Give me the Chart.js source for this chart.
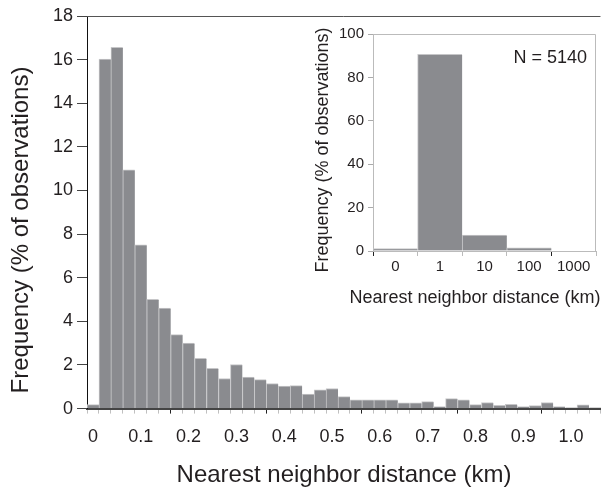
<!DOCTYPE html>
<html>
<head>
<meta charset="utf-8">
<script src="https://cdn.jsdelivr.net/npm/chart.js@4/dist/chart.umd.min.js"></script>
<style>
  body { margin: 0; background: #fff; }
  #wrap { position: relative; width: 608px; height: 490px; }
  #inset { position: absolute; left: 300px; top: 20px; }
</style>
</head>
<body>
<div id="wrap">
  <canvas id="mainChart" width="608" height="490"></canvas>
  <canvas id="inset" width="308" height="300"></canvas>
</div>
<script>
// main histogram: 0.025 km bins
const binLabels = [
  '0', '0.025', '0.05', '0.075', '0.1', '0.125', '0.15', '0.175', '0.2', '0.225',
  '0.25', '0.275', '0.3', '0.325', '0.35', '0.375', '0.4', '0.425', '0.45', '0.475',
  '0.5', '0.525', '0.55', '0.575', '0.6', '0.625', '0.65', '0.675', '0.7', '0.725',
  '0.75', '0.775', '0.8', '0.825', '0.85', '0.875', '0.9', '0.925', '0.95', '0.975',
  '1.0', '1.025', '1.05'
];
const freqPct = [
  0.18, 16.02, 16.56, 10.95, 7.51, 5.01, 4.61, 3.39, 3.00, 2.31,
  1.85, 1.38, 2.02, 1.44, 1.33, 1.15, 1.03, 1.05, 0.67, 0.86,
  0.92, 0.55, 0.40, 0.40, 0.40, 0.40, 0.26, 0.26, 0.32, 0.09,
  0.46, 0.40, 0.18, 0.28, 0.15, 0.20, 0.09, 0.14, 0.28, 0.09,
  0.04, 0.17, 0.04
];
const xTickText = ['0', '0.1', '0.2', '0.3', '0.4', '0.5', '0.6', '0.7', '0.8', '0.9', '1.0'];
const xTickEvery = 4;
const majorTickAt = [7, 15, 23, 31, 38];

// inset: log bins
const insetCats = ['0', '1', '10', '100', '1000'];
const insetPct = [1.1, 90.6, 7.3, 1.5, 0];
const sampleSize = 5140;

const TEXT = '#231f20';
const BAR = '#8a8b8f';
const BAR_EDGE = '#c6c6c8';
const FONT = '"Liberation Sans", Arial, sans-serif';

// draws top/right frame lines and free-placed labels
const frameAndText = {
  id: 'frameAndText',
  afterDraw(chart, args, opts) {
    const { ctx, chartArea: a } = chart;
    ctx.save();
    ctx.strokeStyle = opts.frameColor;
    ctx.lineWidth = 1;
    ctx.beginPath();
    ctx.moveTo(a.left, a.top + 0.5);
    ctx.lineTo(a.right - 0.5, a.top + 0.5);
    if (opts.rightEdge) ctx.lineTo(a.right - 0.5, a.bottom);
    ctx.stroke();
    (opts.texts || []).forEach(t => {
      ctx.save();
      ctx.translate(t.x(a), t.y(a));
      ctx.rotate(t.angle || 0);
      ctx.font = t.font;
      ctx.fillStyle = TEXT;
      ctx.textAlign = t.align || 'center';
      ctx.textBaseline = 'middle';
      ctx.fillText(t.text, 0, 0);
      ctx.restore();
    });
    ctx.restore();
  }
};

new Chart(document.getElementById('mainChart'), {
  type: 'bar',
  data: {
    labels: binLabels,
    datasets: [{
      data: freqPct,
      backgroundColor: BAR,
      borderColor: BAR_EDGE,
      borderWidth: { top: 1, left: 1, right: 0, bottom: 0 },
      borderSkipped: false,
      categoryPercentage: 1,
      barPercentage: 1
    }]
  },
  options: {
    responsive: false,
    animation: false,
    layout: { padding: { left: 49, top: 16, right: 0, bottom: 0 } },
    plugins: {
      legend: { display: false },
      tooltip: { enabled: false },
      frameAndText: {
        frameColor: '#555',
        texts: [{
          text: 'Frequency (% of observations)',
          font: `24px ${FONT}`,
          angle: -Math.PI / 2,
          x: () => 21,
          y: () => 230
        }]
      }
    },
    scales: {
      x: {
        grid: {
          drawOnChartArea: false,
          tickLength: 5,
          tickColor: ctx => majorTickAt.includes(ctx.index) ? '#222' : '#c0c0c0'
        },
        border: { color: '#444', width: 2 },
        ticks: {
          autoSkip: false,
          maxRotation: 0,
          padding: 13,
          color: TEXT,
          font: { family: FONT, size: 18 },
          callback: (v, i) => i % xTickEvery === 0 ? xTickText[i / xTickEvery] : ''
        },
        title: {
          display: true,
          text: 'Nearest neighbor distance (km)',
          color: TEXT,
          font: { family: FONT, size: 24 },
          padding: { top: 0, bottom: 0 }
        }
      },
      y: {
        min: 0,
        max: 18,
        grid: { drawOnChartArea: false, tickLength: 10, tickColor: '#444' },
        border: { color: '#111', width: 1 },
        ticks: {
          stepSize: 2,
          padding: 4,
          color: TEXT,
          font: { family: FONT, size: 18 }
        }
      }
    }
  },
  plugins: [frameAndText]
});

new Chart(document.getElementById('inset'), {
  type: 'bar',
  data: {
    labels: insetCats,
    datasets: [{
      data: insetPct,
      backgroundColor: BAR,
      borderColor: BAR_EDGE,
      borderWidth: { top: 1, left: 1, right: 0, bottom: 0 },
      borderSkipped: false,
      categoryPercentage: 1,
      barPercentage: 1
    }]
  },
  options: {
    responsive: false,
    animation: false,
    layout: { padding: { left: 35, top: 14, right: 12, bottom: 42 } },
    plugins: {
      legend: { display: false },
      tooltip: { enabled: false },
      frameAndText: {
        frameColor: '#bbb',
        rightEdge: true,
        texts: [
          {
            text: 'Frequency (% of observations)',
            font: `18px ${FONT}`,
            angle: -Math.PI / 2,
            x: () => 23,
            y: () => 130
          },
          {
            text: 'Nearest neighbor distance (km)',
            font: `18px ${FONT}`,
            x: () => 175,
            y: () => 278
          },
          {
            text: `N = ${sampleSize}`,
            font: `18px ${FONT}`,
            align: 'right',
            x: a => a.right - 9,
            y: a => a.top + 24
          }
        ]
      }
    },
    scales: {
      x: {
        grid: {
          drawOnChartArea: false,
          tickLength: 5,
          tickColor: ctx => (ctx.index === 0 || ctx.index === 4) ? '#222' : '#bbb'
        },
        border: { color: '#bbb', width: 1 },
        ticks: {
          maxRotation: 0,
          padding: 2,
          color: TEXT,
          font: { family: FONT, size: 15 }
        }
      },
      y: {
        min: 0,
        max: 100,
        grid: { drawOnChartArea: false, tickLength: 5, tickColor: '#aaa' },
        border: { color: '#bbb', width: 1 },
        ticks: {
          stepSize: 20,
          padding: 4,
          color: TEXT,
          font: { family: FONT, size: 15 }
        }
      }
    }
  },
  plugins: [frameAndText]
});
</script>
</body>
</html>
